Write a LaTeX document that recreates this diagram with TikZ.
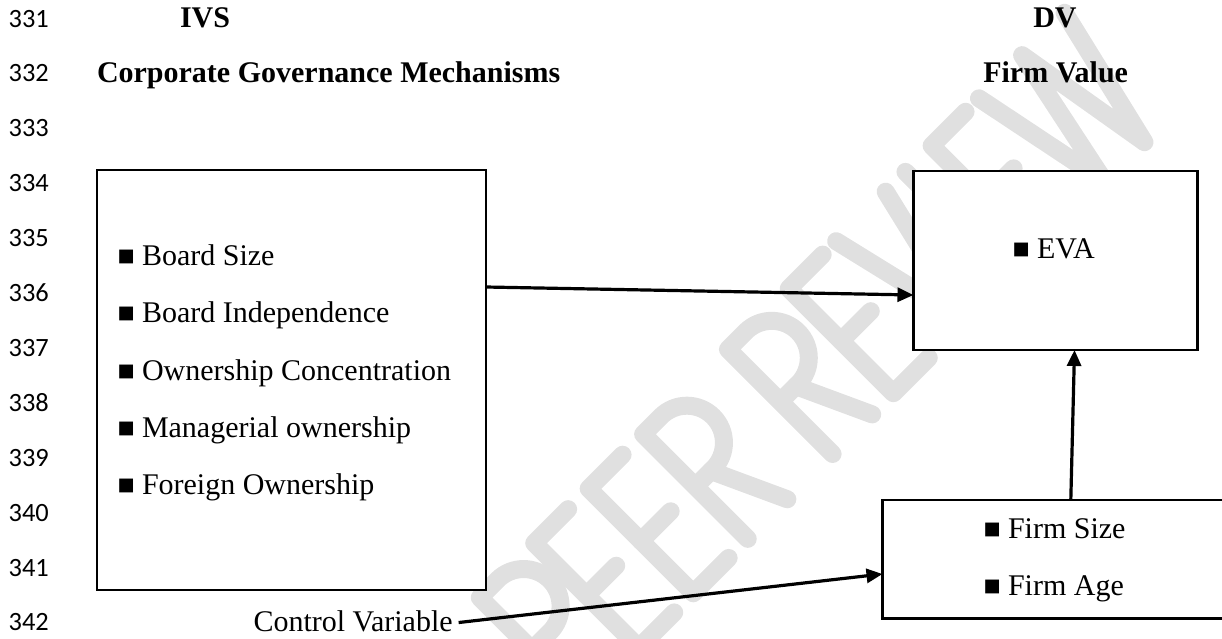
\documentclass[tikz,border=0pt]{standalone}
\usepackage{fontspec}
\setmainfont{Liberation Serif}
\newfontfamily\linenumfont{Carlito}
\usetikzlibrary{arrows.meta}
\definecolor{wmgray}{RGB}{224,224,224}
\newcommand\bulsq{\makebox[23pt][l]{\hspace{-1.5pt}\fontsize{28.5}{28.5}\selectfont ■}}
\tikzset{
  box/.style={draw, line width=2.4pt, fill=white, rectangle, inner sep=0pt, outer sep=0pt, anchor=north west},
  txt/.style={font=\fontsize{30}{36}\selectfont, anchor=base west, inner sep=0pt, outer sep=0pt},
  hd/.style={txt, font=\bfseries\fontsize{30}{36}\selectfont},
  lnum/.style={font=\linenumfont\fontsize{26.4}{30}\selectfont, anchor=base west, inner sep=0pt},
  arr/.style={line width=3.2pt, -{Triangle[length=16pt,width=14pt]}},
  wm/.style={draw=wmgray, line width=18pt, line cap=round, line join=round}
}
\begin{document}
\begin{tikzpicture}[x=1pt,y=1pt]
\useasboundingbox (0,0) rectangle (1222,-638);
\clip (0,0) rectangle (1222,-638);
% watermark PEER REVIEW
\begin{scope}[shift={(693.3,-593.3)}, rotate=45]
  % P
  \draw[wm] (-154,0) -- (-154,148) -- (-129,148) arc[start angle=90, end angle=-90, radius=37] -- (-154,74);
  % E letters
  \foreach \u in {-77,0,283,485} {
    \draw[wm] (\u+48,148) -- (\u,148) -- (\u,0) -- (\u+50,0);
    \draw[wm] (\u,74) -- (\u+42,74);
  }
  % R letters
  \foreach \u in {77,197} {
    \draw[wm] (\u,0) -- (\u,148) -- (\u+25,148) arc[start angle=90, end angle=-90, radius=37] -- (\u,74);
    \draw[wm] (\u+22,74) -- (\u+56,0);
  }
  % V
  \draw[wm] (350,148) -- (385,0) -- (420,148);
  % I
  \draw[wm] (448,0) -- (448,148);
  % W
  \draw[wm] (552,148) -- (582,0) -- (613,148) -- (638,0) -- (673,148);
\end{scope}
% line numbers
\foreach \i in {0,...,11} {
  \pgfmathtruncatemacro\lnv{331+\i}
  \node[lnum] (ln\i) at (8.5,{-27-54.9*\i}) {\lnv};
}
% headings
\node[hd] (ivs) at (180,-27) {IVS};
\node[hd] (cgm) at (97,-82) {Corporate Governance Mechanisms};
\node[hd] (dv) at (1033.3,-27) {DV};
\node[hd] (fv) at (983.3,-82) {Firm Value};
% boxes
\node[box, minimum width=389pt, minimum height=420pt] (big) at (97,-170) {};
\node[box, minimum width=284pt, minimum height=179pt] (eva) at (913.5,-171) {};
\node[box, minimum width=360pt, minimum height=118.5pt] (ctrl) at (882.5,-500) {};
% box contents
\node[txt] (bs) at (119,-265) {\bulsq Board Size};
\node[txt] (bi) at (119,-322) {\bulsq Board Independence};
\node[txt] (oc) at (119,-380) {\bulsq Ownership Concentration};
\node[txt] (mo) at (119,-437) {\bulsq Managerial ownership};
\node[txt] (fo) at (119,-494) {\bulsq Foreign Ownership};
\node[txt] (ev) at (1014,-258) {\bulsq EVA};
\node[txt] (fs) at (985,-538) {\bulsq Firm Size};
\node[txt] (fa) at (985,-595) {\bulsq Firm Age};
\node[txt] (cv) at (253.5,-631.7) {Control Variable};
% arrows
\draw[arr] ([yshift=-117pt]big.north east) -- ([yshift=-124pt]eva.north west);
\draw[arr] ([xshift=188.3pt]ctrl.north west) -- ([xshift=161pt]eva.south west);
\draw[arr] ([xshift=6pt,yshift=-1pt]cv.east) -- ([yshift=-74pt]ctrl.north west);
\end{tikzpicture}
\end{document}
